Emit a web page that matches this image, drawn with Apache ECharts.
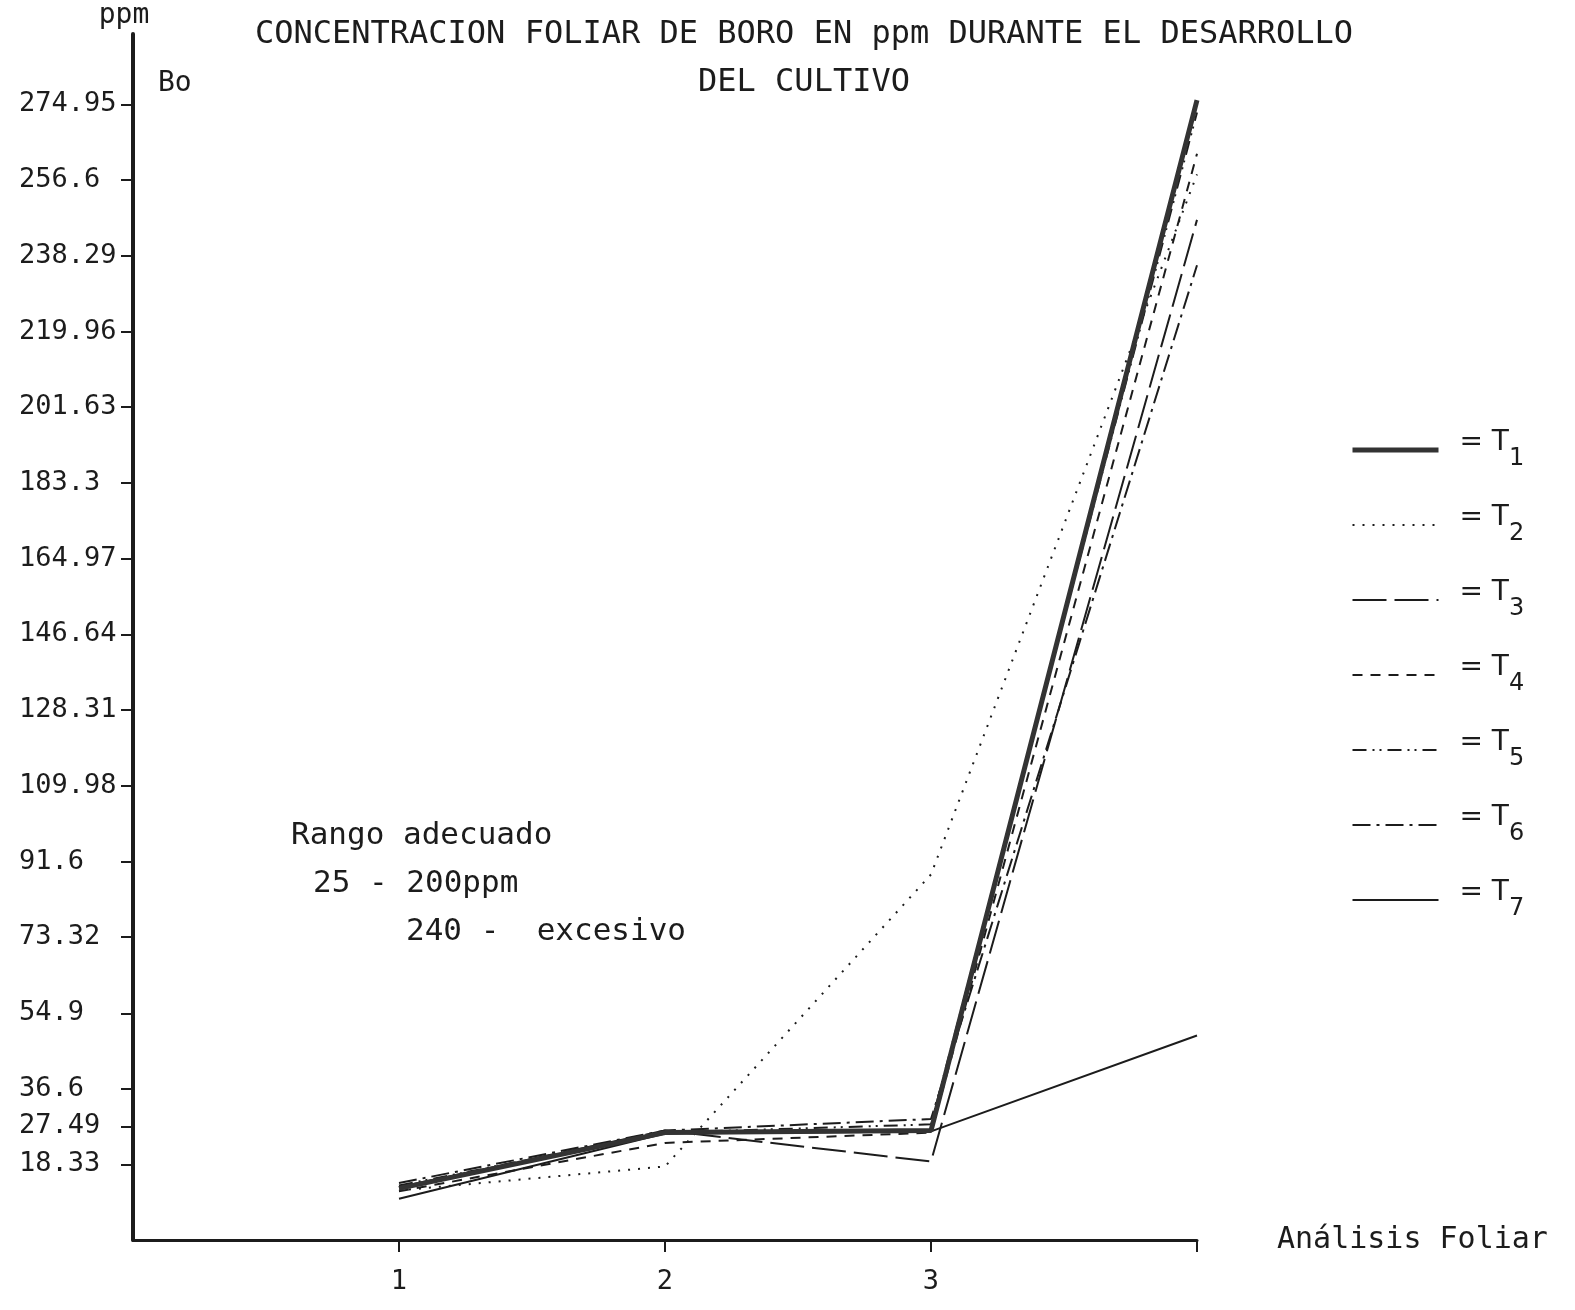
<!DOCTYPE html>
<html><head><meta charset="utf-8">
<script src="https://cdn.jsdelivr.net/npm/echarts@6/dist/echarts.min.js"></script>
<style>html,body{margin:0;padding:0;background:#fff}#c{width:1575px;height:1310px}</style>
</head><body><div id="c"></div>
<script>
// ---- data ----
const analyses = [1, 2, 3, 4];
const xTickValues = [1, 2, 3, 4];
const xTickLabels = [1, 2, 3];
const yTickLabels = [18.33, 27.49, 36.6, 54.9, 73.32, 91.6, 109.98, 128.31, 146.64, 164.97, 183.3, 201.63, 219.96, 238.29, 256.6, 274.95];
const seriesNames = ['T1', 'T2', 'T3', 'T4', 'T5', 'T6', 'T7'];
const T1 = [12.5, 26.0, 26.5, 276.0];
const T2 = [12.0, 17.8, 88.5, 258.0];
const T3 = [12.8, 26.5, 19.0, 247.0];
const T4 = [11.8, 23.5, 26.0, 263.0];
const T5 = [13.2, 26.0, 28.0, 273.0];
const T6 = [13.8, 26.5, 29.3, 236.0];
const T7 = [10.0, 25.8, 26.3, 49.5];
const values = [T1, T2, T3, T4, T5, T6, T7];

// ---- styles ----
const INK = '#1c1c1c';
const MONO = 'DejaVu Sans Mono';
const styles = [
  { color: '#333333', width: 5, type: 'solid' },
  { color: INK, width: 2, type: [2, 8] },
  { color: INK, width: 2, type: [34, 8] },
  { color: INK, width: 2, type: [10, 8] },
  { color: INK, width: 2, type: [14, 6, 2, 5, 2, 6] },
  { color: INK, width: 2, type: [18, 6, 3, 6] },
  { color: INK, width: 2, type: 'solid' }
];

const chart = echarts.init(document.getElementById('c'), null, { renderer: 'canvas' });

const series = seriesNames.map((n, i) => ({
  name: n,
  type: 'line',
  data: analyses.map((x, k) => [x, values[i][k]]),
  showSymbol: false,
  symbol: 'none',
  lineStyle: styles[i],
  itemStyle: { color: styles[i].color },
  z: i === 0 ? 3 : 2,
  animation: false
}));

chart.setOption({
  animation: false,
  backgroundColor: '#fff',
  textStyle: { fontFamily: MONO, color: INK },
  title: {
    text: 'CONCENTRACION FOLIAR DE BORO EN ppm DURANTE EL DESARROLLO\nDEL CULTIVO',
    left: 799, top: 6, textAlign: 'center',
    textStyle: { fontFamily: MONO, fontSize: 32, fontWeight: 'normal', color: INK, lineHeight: 48 }
  },
  grid: { left: 133, right: 378, top: 34, bottom: 70 },
  xAxis: {
    type: 'value', min: 0, max: 4,
    name: 'Análisis Foliar', nameLocation: 'end', nameGap: 80,
    nameTextStyle: { fontFamily: MONO, fontSize: 30, color: INK, padding: [0, 0, 36, 0] },
    axisLine: { lineStyle: { color: INK, width: 3 } },
    axisTick: { show: true, length: 12, customValues: xTickValues, lineStyle: { color: INK, width: 2 } },
    axisLabel: { customValues: xTickLabels, margin: 28, fontFamily: MONO, fontSize: 27, color: INK },
    splitLine: { show: false }
  },
  yAxis: {
    type: 'value', min: 0, max: 292,
    name: 'ppm', nameLocation: 'end', nameGap: 4,
    nameTextStyle: { fontFamily: MONO, fontSize: 28, color: INK, padding: [0, 18, 0, 0] },
    axisLine: { show: true, lineStyle: { color: INK, width: 4 } },
    axisTick: { show: true, length: 12, customValues: yTickLabels, lineStyle: { color: INK, width: 2 } },
    axisLabel: { customValues: yTickLabels, align: 'left', margin: 114, fontFamily: MONO, fontSize: 27, color: INK },
    splitLine: { show: false }
  },
  legend: {
    orient: 'vertical', left: 1345, top: 424,
    itemWidth: 86, itemHeight: 14, itemGap: 33,
    itemStyle: { opacity: 0 },
    lineStyle: { width: 'inherit' },
    data: seriesNames,
    formatter: n => '{t|= T}{s|' + n.slice(1) + '}',
    textStyle: {
      color: INK, padding: [0, 0, 0, 16],
      rich: {
        t: { fontFamily: 'DejaVu Sans', fontSize: 28, color: INK, lineHeight: 42, verticalAlign: 'top' },
        s: { fontFamily: 'DejaVu Sans', fontSize: 24, color: INK, lineHeight: 42, verticalAlign: 'bottom' }
      }
    }
  },
  graphic: [
    { type: 'text', left: 158, top: 70, style: { text: 'Bo', font: '28px "DejaVu Sans Mono"', fill: INK } },
    { type: 'text', left: 291, top: 820, style: { text: 'Rango adecuado', font: '31px "DejaVu Sans Mono"', fill: INK } },
    { type: 'text', left: 313, top: 868, style: { text: '25 - 200ppm', font: '31px "DejaVu Sans Mono"', fill: INK } },
    { type: 'text', left: 406, top: 916, style: { text: '240 -  excesivo', font: '31px "DejaVu Sans Mono"', fill: INK } }
  ],
  series
});
</script></body></html>
